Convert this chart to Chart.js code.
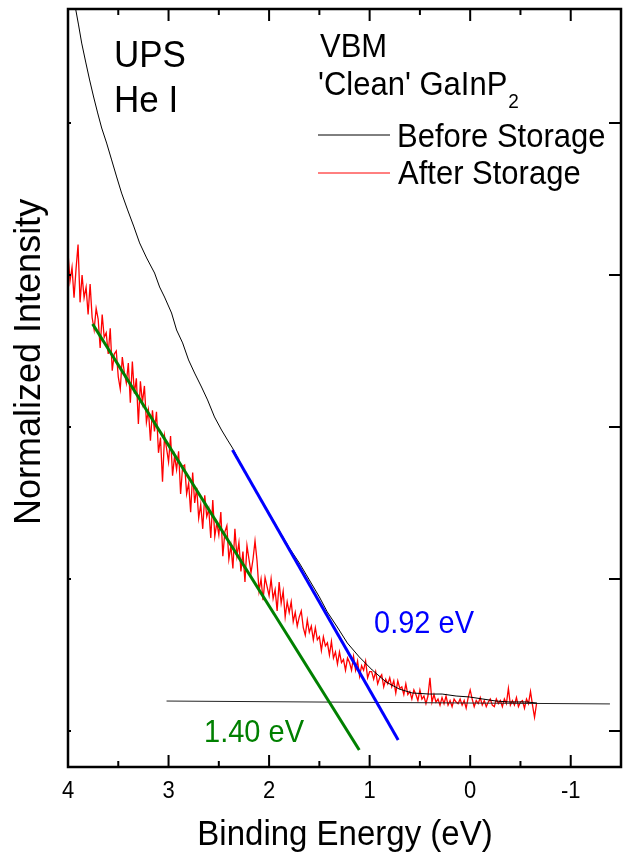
<!DOCTYPE html>
<html lang="en">
<head>
<meta charset="UTF-8">
<title>UPS VBM GaInP2</title>
<script src="https://cdn.jsdelivr.net/npm/chart.js"></script>
<style>
    body { margin: 0; background: #fff; }
    canvas { display: block; }
</style>
</head>
<body>
<canvas id="ups" width="624" height="852"></canvas>
<script>
    // Before storage spectrum (binding energy in eV, normalized intensity)
    const beforeEnergy = [3.935, 3.924, 3.895, 3.864, 3.824, 3.785, 3.745, 3.705, 3.665, 3.616, 3.566, 3.516, 3.467, 3.407, 3.347, 3.288, 3.218, 3.139, 3.089, 3.040, 2.970, 2.920, 2.860, 2.801, 2.741, 2.672, 2.612, 2.543, 2.473, 2.413, 2.364, 2.195, 2.046, 1.897, 1.798, 1.699, 1.500, 1.421, 1.322, 1.222, 1.103, 0.974, 0.835, 0.706, 0.577, 0.408, 0.279, 0.140, 0.011, -0.118, -0.257, -0.386, -0.555, -0.664];
    const beforeIntensity = [4.80, 4.75, 4.645, 4.526, 4.401, 4.283, 4.171, 4.066, 3.967, 3.868, 3.757, 3.645, 3.539, 3.428, 3.322, 3.211, 3.112, 3.013, 2.921, 2.855, 2.750, 2.638, 2.553, 2.441, 2.355, 2.263, 2.178, 2.066, 1.980, 1.914, 1.862, 1.651, 1.487, 1.316, 1.204, 1.105, 0.882, 0.783, 0.684, 0.579, 0.487, 0.401, 0.322, 0.276, 0.250, 0.243, 0.243, 0.230, 0.224, 0.211, 0.197, 0.191, 0.191, 0.184];

    // After storage spectrum (noisy)
    const afterEnergy = [
        4.00, 3.98, 3.96, 3.94, 3.92, 3.90, 3.88, 3.86, 3.84, 3.82,
        3.80, 3.78, 3.76, 3.74, 3.72, 3.70, 3.68, 3.66, 3.64, 3.62,
        3.60, 3.58, 3.56, 3.54, 3.52, 3.50, 3.48, 3.46, 3.44, 3.42,
        3.40, 3.38, 3.36, 3.34, 3.32, 3.30, 3.28, 3.26, 3.24, 3.22,
        3.20, 3.18, 3.16, 3.14, 3.12, 3.10, 3.08, 3.06, 3.04, 3.02,
        3.00, 2.98, 2.96, 2.94, 2.92, 2.90, 2.88, 2.86, 2.84, 2.82,
        2.80, 2.78, 2.76, 2.74, 2.72, 2.70, 2.68, 2.66, 2.64, 2.62,
        2.60, 2.58, 2.56, 2.54, 2.52, 2.50, 2.48, 2.46, 2.44, 2.42,
        2.40, 2.38, 2.36, 2.34, 2.32, 2.30, 2.28, 2.26, 2.24, 2.22,
        2.20, 2.18, 2.16, 2.14, 2.12, 2.10, 2.08, 2.06, 2.04, 2.02,
        2.00, 1.98, 1.96, 1.94, 1.92, 1.90, 1.88, 1.86, 1.84, 1.82,
        1.80, 1.78, 1.76, 1.74, 1.72, 1.70, 1.68, 1.66, 1.64, 1.62,
        1.60, 1.58, 1.56, 1.54, 1.52, 1.50, 1.48, 1.46, 1.44, 1.42,
        1.40, 1.38, 1.36, 1.34, 1.32, 1.30, 1.28, 1.26, 1.24, 1.22,
        1.20, 1.18, 1.16, 1.14, 1.12, 1.10, 1.08, 1.06, 1.04, 1.02,
        1.00, 0.98, 0.96, 0.94, 0.92, 0.90, 0.88, 0.86, 0.84, 0.82,
        0.80, 0.78, 0.76, 0.74, 0.72, 0.70, 0.68, 0.66, 0.64, 0.62,
        0.60, 0.58, 0.56, 0.54, 0.52, 0.50, 0.48, 0.46, 0.44, 0.42,
        0.40, 0.38, 0.36, 0.34, 0.32, 0.30, 0.28, 0.26, 0.24, 0.22,
        0.20, 0.18, 0.16, 0.14, 0.12, 0.10, 0.08, 0.06, 0.04, 0.02,
        0.00, -0.02, -0.04, -0.06, -0.08, -0.10, -0.12, -0.14, -0.16, -0.18,
        -0.20, -0.22, -0.24, -0.26, -0.28, -0.30, -0.32, -0.34, -0.36, -0.38,
        -0.40, -0.42, -0.44, -0.46, -0.48, -0.50, -0.52, -0.54, -0.56, -0.58,
        -0.60, -0.62, -0.64, -0.66
    ];
    const afterIntensity = [
        3.15, 2.96, 3.05, 2.85, 3.04, 3.20, 2.82, 3.00, 2.85, 2.92,
        2.74, 2.94, 2.72, 2.64, 2.78, 2.71, 2.52, 2.74, 2.59, 2.62,
        2.48, 2.65, 2.37, 2.48, 2.50, 2.33, 2.25, 2.46, 2.36, 2.29,
        2.42, 2.16, 2.43, 2.22, 2.32, 2.02, 2.30, 2.16, 2.27, 2.03,
        2.11, 1.91, 2.11, 1.97, 2.10, 1.83, 1.93, 1.64, 1.94, 1.86,
        1.77, 1.94, 1.68, 1.81, 1.72, 1.84, 1.56, 1.74, 1.75, 1.56,
        1.63, 1.44, 1.70, 1.50, 1.60, 1.40, 1.49, 1.33, 1.55, 1.41,
        1.46, 1.27, 1.52, 1.28, 1.37, 1.29, 1.44, 1.15, 1.31, 1.35,
        1.13, 1.22, 1.07, 1.33, 1.15, 1.24, 1.05, 1.18, 0.98, 1.22,
        1.13, 1.04, 1.13, 1.25, 1.12, 0.92, 1.00, 0.86, 1.01, 0.95,
        0.89, 1.00, 0.87, 0.93, 0.79, 0.98, 0.84, 0.92, 0.75, 0.85,
        0.78, 0.85, 0.72, 0.78, 0.69, 0.75, 0.79, 0.68, 0.63, 0.73,
        0.65, 0.69, 0.60, 0.68, 0.60, 0.62, 0.53, 0.62, 0.56, 0.58,
        0.50, 0.59, 0.48, 0.52, 0.44, 0.52, 0.45, 0.47, 0.40, 0.48,
        0.45, 0.40, 0.49, 0.40, 0.46, 0.36, 0.43, 0.40, 0.46, 0.35,
        0.39, 0.39, 0.34, 0.39, 0.31, 0.35, 0.37, 0.29, 0.34, 0.31,
        0.35, 0.29, 0.33, 0.25, 0.33, 0.28, 0.29, 0.24, 0.31, 0.24,
        0.26, 0.21, 0.27, 0.24, 0.20, 0.27, 0.21, 0.23, 0.18, 0.23,
        0.35, 0.19, 0.24, 0.19, 0.21, 0.17, 0.22, 0.18, 0.23, 0.17,
        0.20, 0.16, 0.21, 0.19, 0.18, 0.21, 0.17, 0.20, 0.15, 0.22,
        0.27, 0.21, 0.16, 0.20, 0.18, 0.22, 0.17, 0.20, 0.16, 0.19,
        0.21, 0.17, 0.16, 0.21, 0.18, 0.20, 0.16, 0.21, 0.18, 0.28,
        0.17, 0.20, 0.17, 0.22, 0.16, 0.19, 0.20, 0.15, 0.21, 0.18,
        0.26, 0.17, 0.09, 0.18
    ];

    // baseline and the two linear extrapolations
    const baselineEnergy = [3.02, -1.39];
    const baselineIntensity = [0.197, 0.178];
    const fitBeforeEnergy = [2.364, 0.716];
    const fitBeforeIntensity = [1.849, -0.059];
    const fitAfterEnergy = [3.755, 1.103];
    const fitAfterIntensity = [2.678, -0.125];

    // axis ticks
    const xMajorTicks = [4, 3, 2, 1, 0, -1];
    const xMinorTicks = [3.5, 2.5, 1.5, 0.5, -0.5];
    const yTicks = [0, 1, 2, 3, 4];

    const FONT = '"Liberation Sans", Arial, sans-serif';

    function pts(xs, ys) {
        return xs.map((v, i) => ({ x: v, y: ys[i] }));
    }

    function drawText(ctx, s, x, y, size, color, align) {
        ctx.save();
        ctx.translate(x, y);
        ctx.scale(1, 1.08);
        ctx.font = size + 'px ' + FONT;
        ctx.fillStyle = color;
        ctx.textAlign = align || 'left';
        ctx.textBaseline = 'alphabetic';
        ctx.fillText(s, 0, 0);
        ctx.restore();
    }

    // frame, inward ticks, labels and annotations
    const framePlugin = {
        id: 'frame',
        afterDatasetsDraw(chart) {
            const { ctx, chartArea: a, scales: { x, y } } = chart;
            ctx.save();
            ctx.strokeStyle = '#000';
            ctx.lineWidth = 2.5;
            ctx.strokeRect(a.left, a.top, a.right - a.left, a.bottom - a.top);

            ctx.lineWidth = 2;
            ctx.beginPath();
            xMajorTicks.forEach(v => {
                const px = x.getPixelForValue(v);
                ctx.moveTo(px, a.bottom); ctx.lineTo(px, a.bottom - 12);
                ctx.moveTo(px, a.top); ctx.lineTo(px, a.top + 12);
            });
            xMinorTicks.forEach(v => {
                const px = x.getPixelForValue(v);
                ctx.moveTo(px, a.bottom); ctx.lineTo(px, a.bottom - 6);
                ctx.moveTo(px, a.top); ctx.lineTo(px, a.top + 6);
            });
            yTicks.forEach(v => {
                const py = y.getPixelForValue(v);
                ctx.moveTo(a.left, py); ctx.lineTo(a.left + 3, py);
                ctx.moveTo(a.right, py); ctx.lineTo(a.right - 12, py);
            });
            ctx.stroke();

            // tick labels
            xMajorTicks.forEach(v => {
                drawText(ctx, String(v), x.getPixelForValue(v), a.bottom + 31, 22, '#000', 'center');
            });

            // axis titles
            drawText(ctx, 'Binding Energy (eV)', 345, 845, 33, '#000', 'center');
            ctx.save();
            ctx.translate(40, 525);
            ctx.rotate(-Math.PI / 2);
            ctx.font = '36px ' + FONT;
            ctx.fillStyle = '#000';
            ctx.textAlign = 'left';
            ctx.fillText('Normalized Intensity', 0, 0);
            ctx.restore();

            // annotations
            drawText(ctx, 'UPS', 114, 67, 35, '#000');
            drawText(ctx, 'He I', 114, 112, 35, '#000');
            drawText(ctx, 'VBM', 320, 57, 31, '#000');
            drawText(ctx, "'Clean' GaInP", 318, 95, 31, '#000');
            ctx.font = '31px ' + FONT;
            const w = ctx.measureText("'Clean' GaInP").width;
            drawText(ctx, '2', 318 + w + 1, 108, 19, '#000');

            // legend
            ctx.lineWidth = 1;
            ctx.strokeStyle = '#000';
            ctx.beginPath(); ctx.moveTo(318, 135); ctx.lineTo(390, 135); ctx.stroke();
            ctx.strokeStyle = '#ff0000';
            ctx.beginPath(); ctx.moveTo(318, 173); ctx.lineTo(390, 173); ctx.stroke();
            drawText(ctx, 'Before Storage', 397, 147, 31, '#000');
            drawText(ctx, 'After Storage', 398, 184, 31, '#000');

            drawText(ctx, '0.92 eV', 374, 633, 29, '#0000ff');
            drawText(ctx, '1.40 eV', 204, 742, 29, '#008000');
            ctx.restore();
        }
    };

    new Chart(document.getElementById('ups'), {
        type: 'line',
        data: {
            datasets: [
                { label: 'fit after', data: pts(fitAfterEnergy, fitAfterIntensity), borderColor: '#008000', borderWidth: 3 },
                { label: 'fit before', data: pts(fitBeforeEnergy, fitBeforeIntensity), borderColor: '#0000ff', borderWidth: 3 },
                { label: 'Before Storage', data: pts(beforeEnergy, beforeIntensity), borderColor: '#000000', borderWidth: 1 },
                { label: 'baseline', data: pts(baselineEnergy, baselineIntensity), borderColor: '#222222', borderWidth: 1 },
                { label: 'After Storage', data: pts(afterEnergy, afterIntensity), borderColor: '#ff0000', borderWidth: 1.3 }
            ]
        },
        options: {
            responsive: false,
            animation: false,
            layout: { padding: { top: 9, right: 3, left: 0, bottom: 0 } },
            elements: { point: { radius: 0 }, line: { tension: 0 } },
            plugins: { legend: { display: false }, tooltip: { enabled: false } },
            scales: {
                x: {
                    type: 'linear', reverse: true, min: -1.5, max: 4,
                    grid: { display: false }, border: { display: false },
                    ticks: { display: false },
                    afterFit: s => { s.height = 85; }
                },
                y: {
                    type: 'linear', min: -0.237, max: 4.75,
                    grid: { display: false }, border: { display: false },
                    ticks: { display: false },
                    afterFit: s => { s.width = 68; }
                }
            }
        },
        plugins: [framePlugin]
    });
</script>
</body>
</html>
